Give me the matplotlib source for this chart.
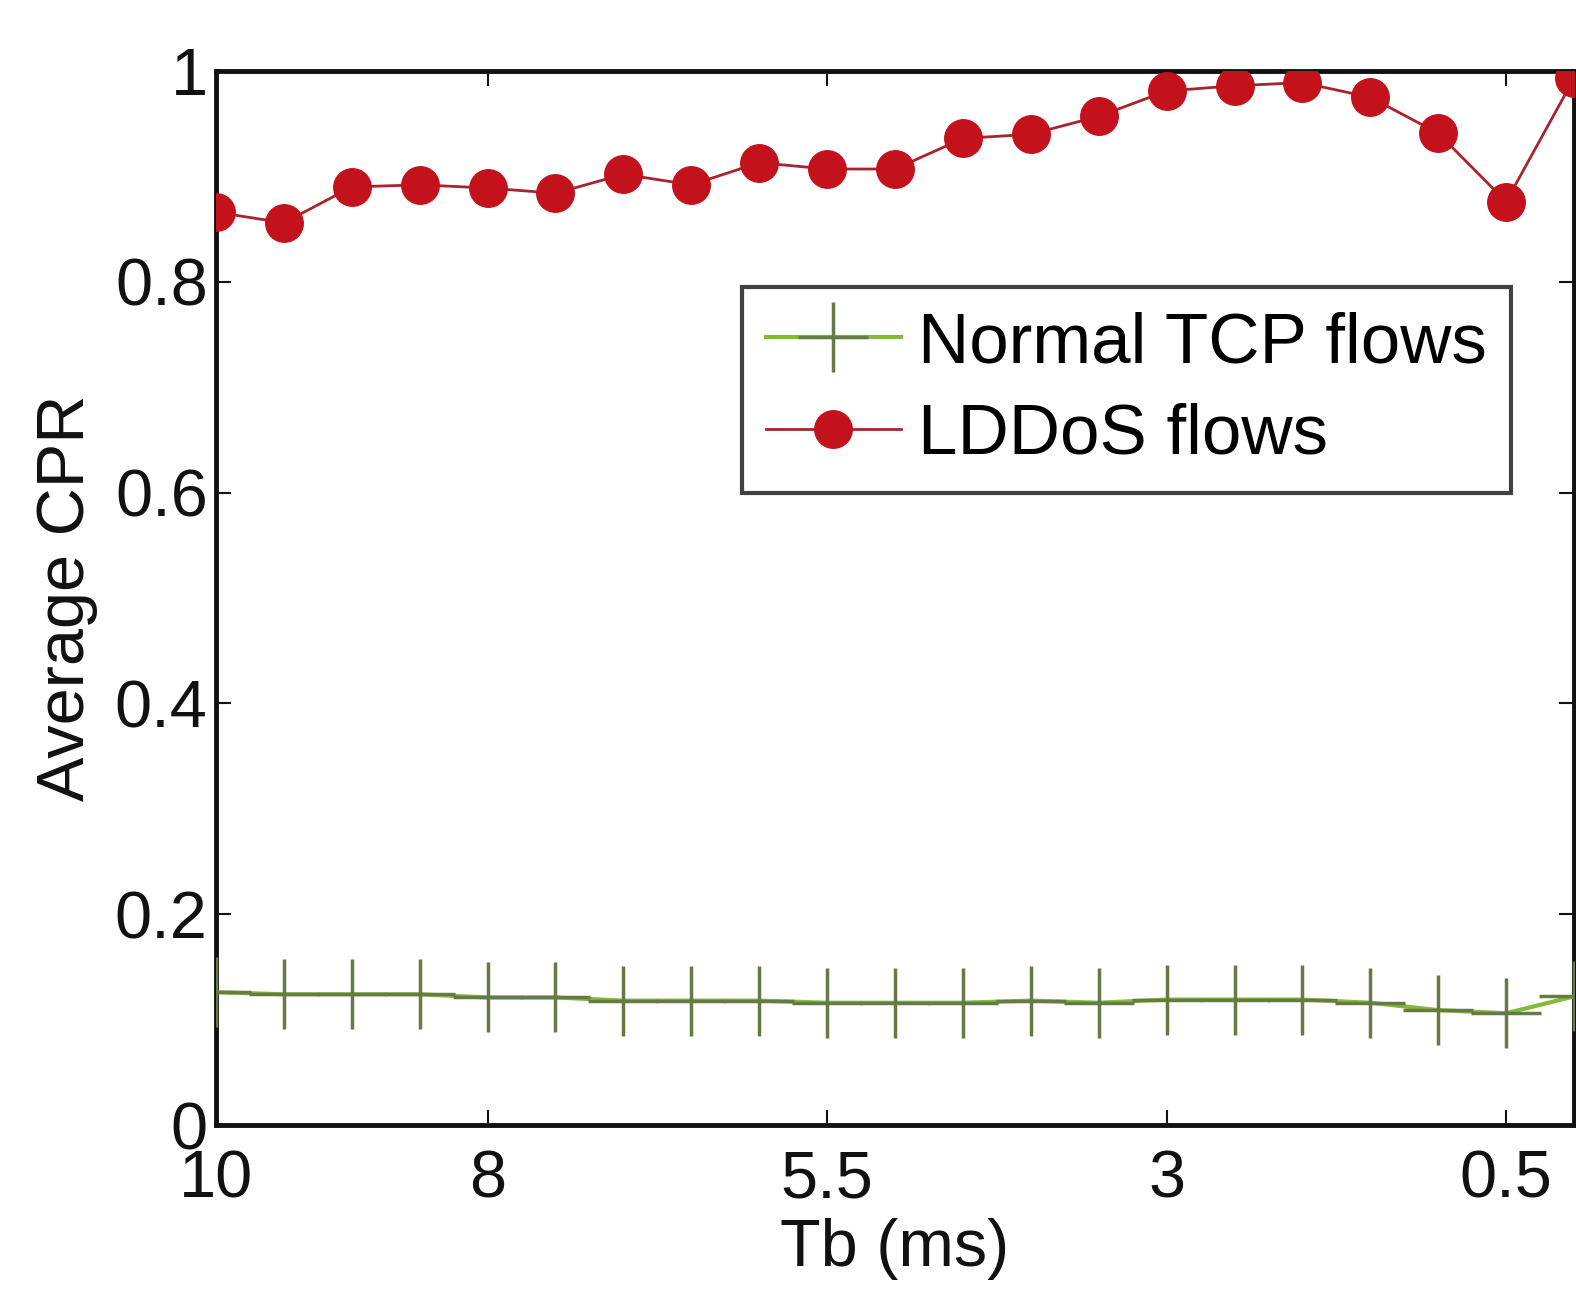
import matplotlib
matplotlib.use("Agg")
import matplotlib.pyplot as plt

# Data
tb = [10, 9.5, 9, 8.5, 8, 7.5, 7, 6.5, 6, 5.5, 5, 4.5, 4, 3.5, 3, 2.5, 2, 1.5, 1, 0.5, 0]
normal_tcp = [0.126, 0.124, 0.124, 0.124, 0.121, 0.121, 0.118, 0.118, 0.118, 0.116, 0.116,
              0.116, 0.118, 0.116, 0.119, 0.119, 0.119, 0.116, 0.109, 0.106, 0.122]
lddos = [0.866, 0.856, 0.890, 0.892, 0.889, 0.884, 0.902, 0.892, 0.913, 0.907, 0.907,
         0.936, 0.940, 0.957, 0.981, 0.986, 0.989, 0.975, 0.941, 0.876, 0.993]
xticks = [10, 8, 5.5, 3, 0.5]
xtick_labels = ["10", "8", "5.5", "3", "0.5"]
yticks = [0, 0.2, 0.4, 0.6, 0.8, 1]
ytick_labels = ["0", "0.2", "0.4", "0.6", "0.8", "1"]

plt.rcParams['font.family'] = ['Liberation Sans', 'DejaVu Sans']

W, H = 1576, 1290
fig = plt.figure(figsize=(W / 100, H / 100), dpi=100)
L, R, T, B = 216, 1574, 71, 1125
ax = fig.add_axes([L / W, 1 - B / H, (R - L) / W, (B - T) / H])

ax.plot(tb, normal_tcp, color='#86b83c', lw=3, marker='+', ms=50,
        mec='#667a45', mew=2.5, label='Normal TCP flows', zorder=3)
ax.plot(tb, lddos, color='#a8242c', lw=2, marker='o', ms=27,
        mfc='#c3121c', mec='#c3121c', label='LDDoS flows', zorder=4)

ax.set_xlim(10, 0)
ax.set_ylim(0, 1)
ax.set_xticks(xticks)
ax.set_xticklabels(xtick_labels)
ax.set_yticks(yticks)
ax.set_yticklabels(ytick_labels)
ax.tick_params(direction='in', length=11, width=1.5, labelsize=48,
               top=True, right=True, colors='#111111')
ax.tick_params(axis='x', pad=18)
ax.tick_params(axis='y', pad=6)
for s in ax.spines.values():
    s.set_linewidth(3.5)
    s.set_color('#111111')

ax.set_xlabel('Tb (ms)', fontsize=48, labelpad=4, color='#111111')
ax.set_ylabel('Average CPR', fontsize=48, labelpad=12, color='#111111')

leg = ax.legend(loc='upper left', bbox_to_anchor=(742 / W, 1 - 287 / H),
                bbox_transform=fig.transFigure, borderaxespad=0,
                fontsize=51, handlelength=1.9, handletextpad=0.25,
                labelspacing=0.36, borderpad=0.34, frameon=True, fancybox=False)
leg.get_frame().set_edgecolor('#111111')
leg.get_frame().set_linewidth(3)

fig.savefig('out.png', dpi=100)
